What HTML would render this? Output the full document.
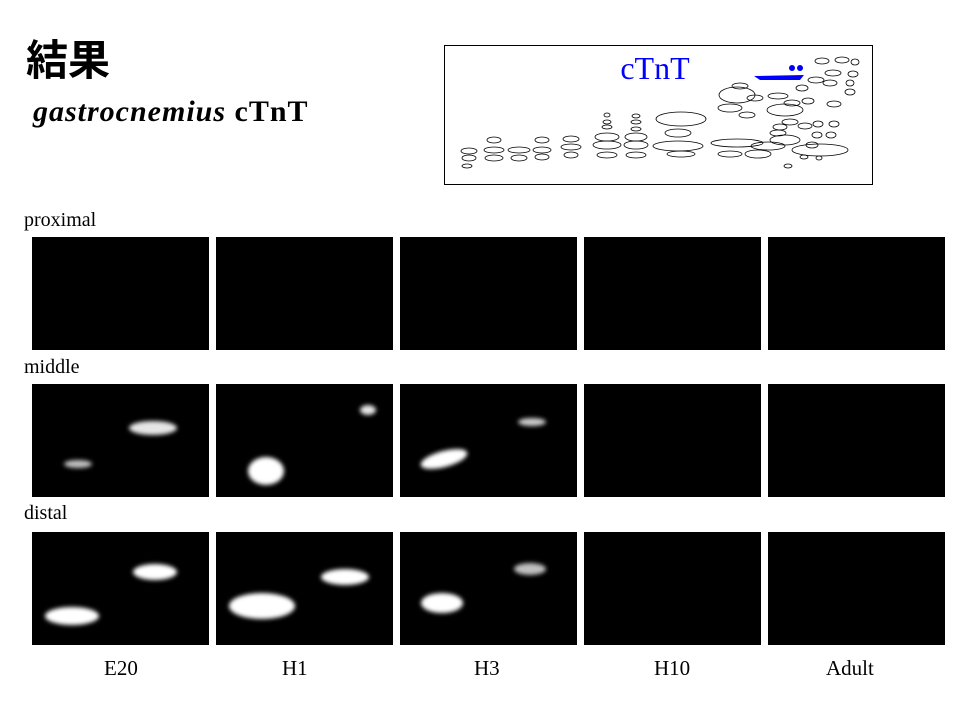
<!DOCTYPE html>
<html><head><meta charset="utf-8"><style>
body{margin:0;width:960px;height:720px;background:#fff;overflow:hidden;position:relative;font-family:"Liberation Serif",serif}
.t{position:absolute;white-space:nowrap}
</style></head><body>
<div class="t" style="left:26px;top:27px;font:bold 42px 'Liberation Sans','Noto Sans CJK JP',sans-serif">結果</div>
<div class="t" style="left:33px;top:95px;font-size:30px;font-weight:bold;letter-spacing:1px"><i>gastrocnemius</i> cTnT</div>
<div class="t" style="left:24px;top:209px;font-size:20px">proximal</div>
<div class="t" style="left:24px;top:356px;font-size:20px">middle</div>
<div class="t" style="left:24px;top:502px;font-size:20px">distal</div>
<svg width="960" height="720" style="position:absolute;left:0;top:0">
<defs><filter id="b" x="-50%" y="-50%" width="200%" height="200%"><feGaussianBlur stdDeviation="2"/></filter></defs>
<g fill="#000">
<rect x="32" y="237" width="177" height="113"/><rect x="216" y="237" width="177" height="113"/><rect x="400" y="237" width="177" height="113"/><rect x="584" y="237" width="177" height="113"/><rect x="768" y="237" width="177" height="113"/>
<rect x="32" y="384" width="177" height="113"/><rect x="216" y="384" width="177" height="113"/><rect x="400" y="384" width="177" height="113"/><rect x="584" y="384" width="177" height="113"/><rect x="768" y="384" width="177" height="113"/>
<rect x="32" y="532" width="177" height="113"/><rect x="216" y="532" width="177" height="113"/><rect x="400" y="532" width="177" height="113"/><rect x="584" y="532" width="177" height="113"/><rect x="768" y="532" width="177" height="113"/>
</g>
<g fill="#fff" filter="url(#b)">
<ellipse cx="153" cy="428" rx="24" ry="7" opacity=".9"/>
<ellipse cx="78" cy="464" rx="14" ry="4" opacity=".75"/>
<ellipse cx="266" cy="471" rx="18" ry="14"/>
<ellipse cx="368" cy="410" rx="8" ry="5" opacity=".9"/>
<ellipse cx="444" cy="459" rx="24" ry="8" transform="rotate(-15 444 459)"/>
<ellipse cx="532" cy="422" rx="14" ry="4" opacity=".8"/>
<ellipse cx="155" cy="572" rx="22" ry="8"/>
<ellipse cx="72" cy="616" rx="27" ry="9"/>
<ellipse cx="345" cy="577" rx="24" ry="8"/>
<ellipse cx="262" cy="606" rx="33" ry="13"/>
<ellipse cx="530" cy="569" rx="16" ry="6" opacity=".75"/>
<ellipse cx="442" cy="603" rx="21" ry="10"/>
</g>
<rect x="444.5" y="45.5" width="428" height="139" fill="#fff" stroke="#000"/>
<text x="655" y="79" font-family="Liberation Serif" font-size="32" fill="#0000ff" text-anchor="middle">cTnT</text>
<g fill="none" stroke="#000" stroke-width="0.8">
<ellipse cx="469" cy="151" rx="8" ry="3"/><ellipse cx="469" cy="158" rx="7" ry="3"/><ellipse cx="467" cy="166" rx="5" ry="2"/>
<ellipse cx="494" cy="140" rx="7" ry="3"/><ellipse cx="494" cy="150" rx="10" ry="3"/><ellipse cx="494" cy="158" rx="9" ry="3"/>
<ellipse cx="519" cy="150" rx="11" ry="3"/><ellipse cx="519" cy="158" rx="8" ry="3"/>
<ellipse cx="542" cy="140" rx="7" ry="3"/><ellipse cx="542" cy="150" rx="9" ry="3"/><ellipse cx="542" cy="157" rx="7" ry="3"/>
<ellipse cx="571" cy="139" rx="8" ry="3"/><ellipse cx="571" cy="147" rx="10" ry="3"/><ellipse cx="571" cy="155" rx="7" ry="3"/>
<ellipse cx="607" cy="115" rx="3" ry="2"/><ellipse cx="607" cy="122" rx="4" ry="2"/><ellipse cx="607" cy="127" rx="5" ry="2"/>
<ellipse cx="607" cy="137" rx="12" ry="4"/><ellipse cx="607" cy="145" rx="14" ry="4"/><ellipse cx="607" cy="155" rx="10" ry="3"/>
<ellipse cx="636" cy="116" rx="4" ry="2"/><ellipse cx="636" cy="122" rx="5" ry="2"/><ellipse cx="636" cy="129" rx="5" ry="2"/>
<ellipse cx="636" cy="137" rx="11" ry="4"/><ellipse cx="636" cy="145" rx="12" ry="4"/><ellipse cx="636" cy="155" rx="10" ry="3"/>
<ellipse cx="681" cy="119" rx="25" ry="7"/><ellipse cx="678" cy="133" rx="13" ry="4"/><ellipse cx="678" cy="146" rx="25" ry="5"/><ellipse cx="681" cy="154" rx="14" ry="3"/>
<ellipse cx="737" cy="143" rx="26" ry="4"/><ellipse cx="730" cy="154" rx="12" ry="3"/>
<ellipse cx="768" cy="146" rx="17" ry="4"/><ellipse cx="758" cy="154" rx="13" ry="4"/>
<ellipse cx="785" cy="140" rx="15" ry="5"/><ellipse cx="778" cy="133" rx="8" ry="3"/>
<ellipse cx="737" cy="95" rx="18" ry="8"/><ellipse cx="730" cy="108" rx="12" ry="4"/><ellipse cx="747" cy="115" rx="8" ry="3"/>
<ellipse cx="740" cy="86" rx="8" ry="3"/><ellipse cx="755" cy="98" rx="8" ry="3"/>
<ellipse cx="785" cy="110" rx="18" ry="6"/><ellipse cx="778" cy="96" rx="10" ry="3"/><ellipse cx="792" cy="103" rx="8" ry="3"/>
<ellipse cx="790" cy="122" rx="8" ry="3"/><ellipse cx="805" cy="126" rx="7" ry="3"/><ellipse cx="780" cy="127" rx="7" ry="3"/>
<ellipse cx="808" cy="101" rx="6" ry="3"/><ellipse cx="802" cy="88" rx="6" ry="3"/><ellipse cx="816" cy="80" rx="8" ry="3"/>
<ellipse cx="822" cy="61" rx="7" ry="3"/><ellipse cx="842" cy="60" rx="7" ry="3"/><ellipse cx="855" cy="62" rx="4" ry="3"/>
<ellipse cx="833" cy="73" rx="8" ry="3"/><ellipse cx="853" cy="74" rx="5" ry="3"/><ellipse cx="850" cy="83" rx="4" ry="3"/>
<ellipse cx="830" cy="83" rx="7" ry="3"/><ellipse cx="834" cy="104" rx="7" ry="3"/><ellipse cx="850" cy="92" rx="5" ry="3"/>
<ellipse cx="818" cy="124" rx="5" ry="3"/><ellipse cx="834" cy="124" rx="5" ry="3"/><ellipse cx="817" cy="135" rx="5" ry="3"/><ellipse cx="831" cy="135" rx="5" ry="3"/>
<ellipse cx="812" cy="145" rx="6" ry="3"/><ellipse cx="820" cy="150" rx="28" ry="6"/><ellipse cx="804" cy="157" rx="4" ry="2"/><ellipse cx="819" cy="158" rx="3" ry="2"/><ellipse cx="788" cy="166" rx="4" ry="2"/>
</g>
<g fill="#0000ff"><polygon points="754,76 804,75 800,80 760,80"/><circle cx="792" cy="68" r="3"/><circle cx="800" cy="68" r="3"/></g>
</svg>
<div class="t" style="left:104px;top:656px;font-size:21px">E20</div>
<div class="t" style="left:282px;top:656px;font-size:21px">H1</div>
<div class="t" style="left:474px;top:656px;font-size:21px">H3</div>
<div class="t" style="left:654px;top:656px;font-size:21px">H10</div>
<div class="t" style="left:826px;top:656px;font-size:21px">Adult</div>
</body></html>
